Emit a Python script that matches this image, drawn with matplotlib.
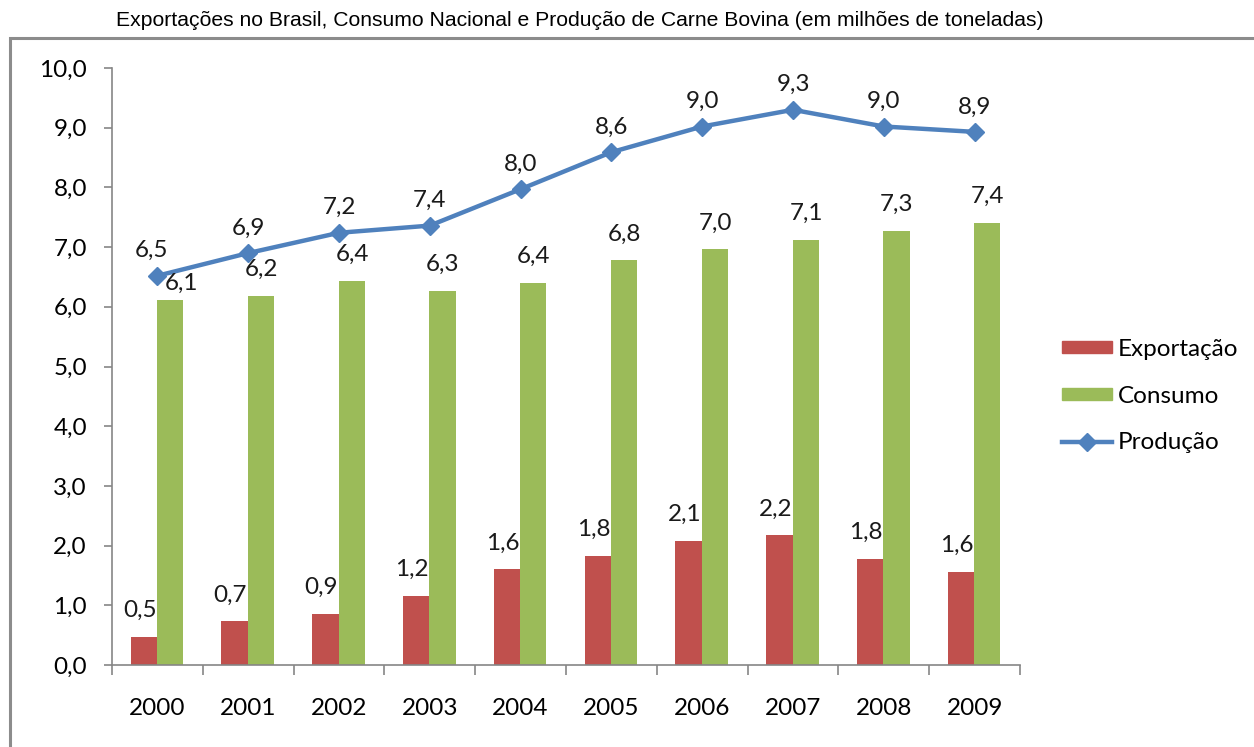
import matplotlib
matplotlib.use("Agg")
import matplotlib.pyplot as plt
from matplotlib.patches import Rectangle
from matplotlib.lines import Line2D
from matplotlib.patches import Patch
import numpy as np

years = ["2000", "2001", "2002", "2003", "2004", "2005", "2006", "2007", "2008", "2009"]
exportacao = [0.47, 0.73, 0.86, 1.16, 1.60, 1.83, 2.08, 2.17, 1.78, 1.56]
consumo = [6.11, 6.18, 6.44, 6.27, 6.40, 6.78, 6.96, 7.12, 7.27, 7.40]
producao = [6.52, 6.90, 7.24, 7.36, 7.97, 8.59, 9.02, 9.30, 9.02, 8.93]
yticks = [0, 1, 2, 3, 4, 5, 6, 7, 8, 9, 10]

RED = "#C0504D"
GREEN = "#9BBB59"
BLUE = "#4F81BD"
GRAY = "#868686"
FONT = "Lato"
FS = 17.5

def fmt(v):
    return f"{v:.1f}".replace(".", ",")

fig = plt.figure(figsize=(12.54, 7.47), dpi=100)
W, H = 1254, 747

# outer border box
fig.patches.append(Rectangle((10 / W, -0.05), 1.2, 1 - 38 / H + 0.05, transform=fig.transFigure,
                             fill=False, edgecolor="#8C8C8C", linewidth=2.2))
fig.text(580 / W, 1 - 21 / H, "Exportações no Brasil, Consumo Nacional e Produção de Carne Bovina (em milhões de toneladas)",
         ha="center", va="center", fontsize=15.2, family="Liberation Sans")

ax = fig.add_axes([112 / W, 1 - 665 / H, (1020 - 112) / W, (665 - 68) / H])
x = np.arange(len(years))
bw = 0.29
ax.bar(x - bw / 2 - 0.005, exportacao, width=bw, color=RED, zorder=2)
ax.bar(x + bw / 2 - 0.005, consumo, width=bw, color=GREEN, zorder=2)
ax.plot(x, producao, color=BLUE, lw=3.2, marker="D", ms=9, zorder=3)

for i in range(len(years)):
    ax.annotate(fmt(exportacao[i]), (x[i] - bw / 2 - 0.05, exportacao[i]), xytext=(0, 19),
                textcoords="offset points", ha="center", va="center", fontsize=FS, family=FONT, color="#1a1a1a")
    dx = 8 if i == 0 else 0
    ax.annotate(fmt(consumo[i]), (x[i] + bw / 2, consumo[i]), xytext=(dx, 19 if i else 12),
                textcoords="offset points", ha="center", va="center", fontsize=FS, family=FONT, color="#1a1a1a")
    ax.annotate(fmt(producao[i]), (x[i], producao[i]), xytext=(-4 if i == 0 else 0, 18),
                textcoords="offset points", ha="center", va="center", fontsize=FS, family=FONT, color="#1a1a1a")

ax.set_xlim(-0.5, len(years) - 0.5)
ax.set_ylim(0, 10)
ax.set_yticks(yticks)
ax.set_yticklabels([fmt(v) for v in yticks], family=FONT, fontsize=FS)
ax.set_xticks(x)
ax.set_xticklabels(years, family=FONT, fontsize=FS)
ax.set_xticks(np.arange(-0.5, len(years), 1), minor=True)
ax.tick_params(axis="x", which="major", length=0, pad=24)
ax.tick_params(axis="x", which="minor", length=7, color=GRAY, width=1.2, direction="out")
ax.tick_params(axis="y", length=6, color=GRAY, width=1.2, pad=12)
for s in ["top", "right"]:
    ax.spines[s].set_visible(False)
for s in ["left", "bottom"]:
    ax.spines[s].set_color(GRAY)
    ax.spines[s].set_linewidth(1.2)

handles = [Patch(color=RED), Patch(color=GREEN),
           Line2D([0], [0], color=BLUE, lw=3.2, marker="D", ms=9)]
leg = fig.legend(handles, ["Exportação", "Consumo", "Produção"], loc="center left",
                 bbox_to_anchor=(1040 / W, 1 - 396 / H), frameon=False,
                 prop={"family": FONT, "size": FS}, handlelength=2.05, handleheight=0.4,
                 labelspacing=1.05, handletextpad=0.25)

fig.savefig("out.png", dpi=100)
